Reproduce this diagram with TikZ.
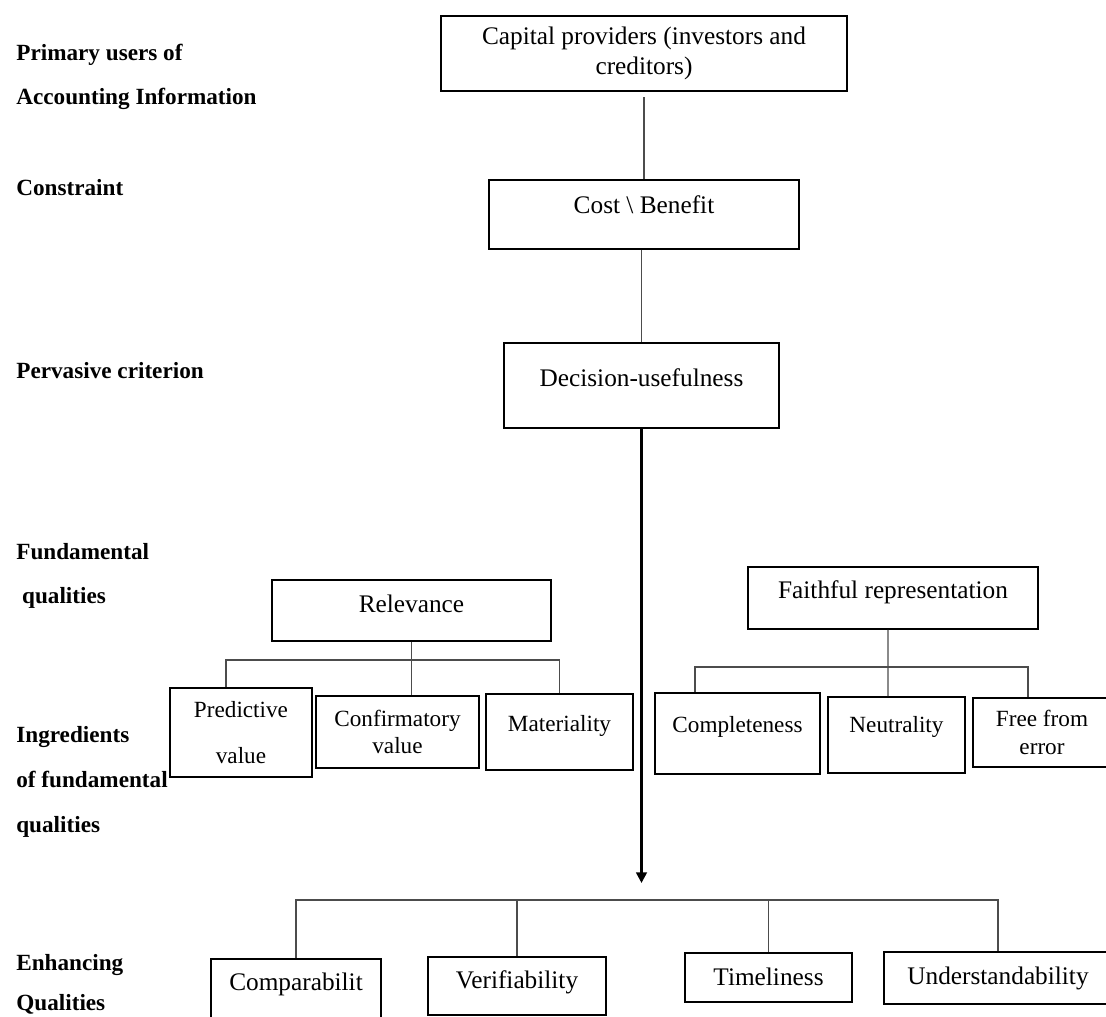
\documentclass[tikz,border=0pt]{standalone}
\usepackage{fontspec}
\setmainfont{Liberation Serif}
\usetikzlibrary{arrows.meta}

\begin{document}
\begin{tikzpicture}[
  x=0.02cm, y=-0.02cm,
  font=\fontsize{14.4}{17.3}\selectfont,
  box/.style={draw, line width=1pt, align=center, inner sep=2pt},
  txt/.style={text height=10pt, text depth=#1},
  small/.style={font=\fontsize{13.2}{15.8}\selectfont},
  lab/.style={anchor=base west, align=left, inner sep=0pt,
              font=\bfseries\fontsize{13.2}{25.5}\selectfont},
  link/.style={draw=black!70, line width=0.6pt},
  ar/.style={line width=1.4pt, -{Triangle[length=6pt,width=6pt]}}
]
\useasboundingbox (0,0) rectangle (1106,1017);
\clip (0,0) rectangle (1106,1017);

% level labels (base = last line)
\node[lab] (lusers) at (16,105) {Primary users of\\Accounting Information};
\node[lab] (lcons) at (16,195) {Constraint};
\node[lab] (lperv) at (16,378) {Pervasive criterion};
\node[lab] (lfund) at (16,603) {Fundamental\\[-1pt]\ qualities};
\node[lab] (lingr) at (16,832) {Ingredients\\of fundamental\\qualities};
\node[lab] (lenh) at (16,1010) {Enhancing\\[-3pt]Qualities};

% main column
\node[box, minimum width=8.12cm, minimum height=1.5cm] (cap) at (644,53.5)
  {Capital providers (investors and\\creditors)};
\node[box, txt=11.7pt, minimum width=6.2cm, minimum height=1.38cm] (cost) at (644,214.5)
  {Cost \textbackslash{} Benefit};
\node[box, txt=9.4pt, minimum width=5.5cm, minimum height=1.7cm] (dec) at (641.5,385.5)
  {Decision-usefulness};

% fundamental qualities
\node[box, txt=7.2pt, minimum width=5.58cm, minimum height=1.22cm] (rel) at (411.5,610.5) {Relevance};
\node[box, txt=8.9pt, minimum width=5.8cm, minimum height=1.24cm] (faith) at (893,598) {Faithful representation};

% ingredients
\node[box, small, minimum width=2.84cm, minimum height=1.78cm] (pred) at (241,732.5) {Predictive\\[10pt]value};
\node[box, small, minimum width=3.26cm, minimum height=1.44cm] (conf) at (397.5,732) {Confirmatory\\value};
\node[box, small, txt=11.1pt, minimum width=2.94cm, minimum height=1.52cm] (mat) at (559.5,732) {Materiality};
\node[box, small, txt=11.7pt, minimum width=3.3cm, minimum height=1.62cm] (comp) at (737.5,733.5) {Completeness};
\node[box, small, txt=12.3pt, minimum width=2.74cm, minimum height=1.52cm] (neut) at (896.5,735) {Neutrality};
\node[box, small, minimum width=2.76cm, minimum height=1.38cm] (free) at (1042,732.5) {Free from\\error};

% enhancing qualities
\node[box, txt=10pt, minimum width=3.4cm, minimum height=1.24cm] (cmp) at (296,990) {Comparabilit};
\node[box, txt=7.7pt, minimum width=3.56cm, minimum height=1.16cm] (ver) at (517,986) {Verifiability};
\node[box, txt=0.5pt, minimum width=3.34cm, minimum height=0.98cm] (tim) at (768.5,977.5) {Timeliness};
\node[box, txt=2.1pt, minimum width=4.56cm, minimum height=1.04cm] (und) at (998,978) {Understandability};

\coordinate (rbar) at (412,660);
\coordinate (fbar) at (888,667);
\coordinate (enh) at (641.5,883);
\coordinate (ebar) at (641.5,900);

\draw[link, shorten <=3pt] (cap.south) -- (cost.north);
\draw[link] (cost.south -| dec.north) -- (dec.north);
\draw[ar] (dec.south) -- (enh);

\draw[link] (rel.south) -- (rel.south |- conf.north);
\draw[link] ([xshift=-0.3cm]pred.north) |- (rbar) -| (mat.north);

\draw[link] ([xshift=-0.1cm]faith.south) -- (fbar |- neut.north);
\draw[link] ([xshift=-0.85cm]comp.north) |- (fbar) -| ([xshift=-0.28cm]free.north);

\draw[link] (cmp.north) |- (ebar) -| (und.north);
\draw[link] (ver.north) -- (ver.north |- ebar);
\draw[link] (tim.north) -- (tim.north |- ebar);
\end{tikzpicture}
\end{document}
